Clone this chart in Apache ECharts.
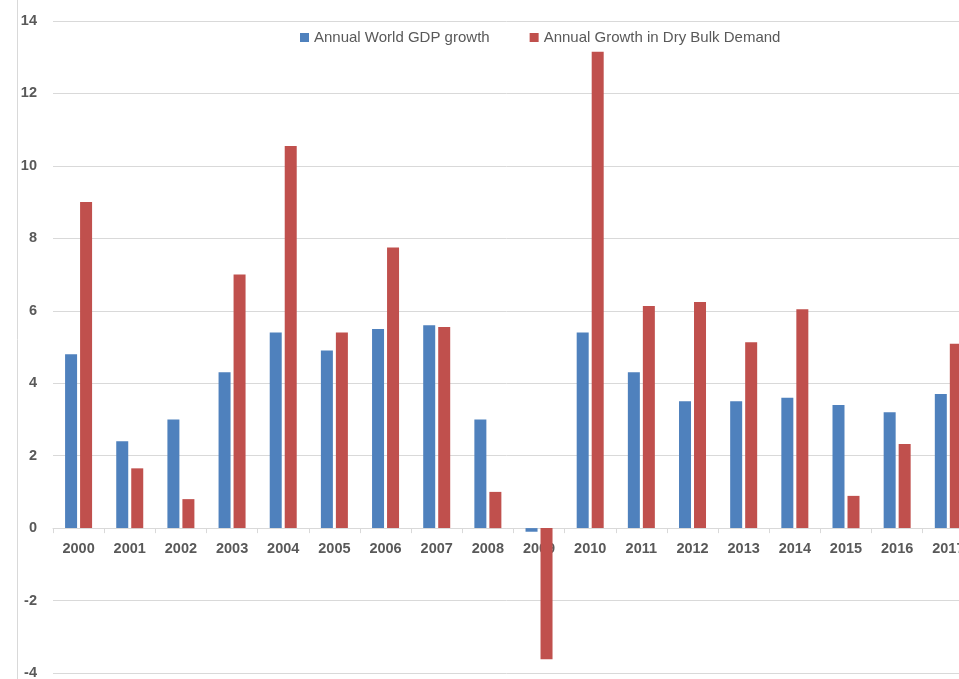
<!DOCTYPE html>
<html>
<head>
<meta charset="utf-8">
<style>html,body{margin:0;padding:0;background:#fff;}#chart{width:959px;height:679px;}</style>
<script src="https://cdn.jsdelivr.net/npm/echarts@6/dist/echarts.min.js"></script>
</head>
<body>
<div id="chart"></div>
<script>
var years = ['2000','2001','2002','2003','2004','2005','2006','2007','2008','2009','2010','2011','2012','2013','2014','2015','2016','2017'];
var gdpGrowth = [4.8, 2.4, 3.0, 4.3, 5.4, 4.9, 5.5, 5.6, 3.0, -0.1, 5.4, 4.3, 3.5, 3.5, 3.6, 3.4, 3.2, 3.7];
var dryBulkGrowth = [9.0, 1.65, 0.8, 7.0, 10.55, 5.4, 7.75, 5.55, 1.0, -3.62, 13.15, 6.13, 6.24, 5.13, 6.04, 0.89, 2.32, 5.09];
var yTicks = {min: -4, max: 14, interval: 2};
var seriesNames = ['Annual World GDP growth', 'Annual Growth in Dry Bulk Demand'];

var gridHeight = 652;
// shift the category axis up to the zero line of the value scale
var zeroOffset = -gridHeight * (0 - yTicks.min) / (yTicks.max - yTicks.min);

var chart = echarts.init(document.getElementById('chart'), null, {renderer: 'canvas'});
var font = 'Liberation Sans';
chart.setOption({
  animation: false,
  backgroundColor: '#ffffff',
  color: ['#4F81BD', '#C0504D'],
  legend: {
    data: seriesNames,
    left: 300,
    top: 30,
    padding: 0,
    icon: 'rect',
    itemWidth: 9,
    itemHeight: 9,
    itemGap: 40,
    textStyle: {color: '#595959', fontSize: 15, fontFamily: font}
  },
  grid: {left: 53, top: 21, width: 920.9, height: gridHeight, outerBoundsMode: 'none', containLabel: false},
  xAxis: {
    type: 'category',
    data: years,
    position: 'bottom',
    offset: zeroOffset,
    axisLine: {onZero: false, lineStyle: {color: '#d9d9d9', width: 1}},
    axisTick: {show: true, length: 5, lineStyle: {color: '#d9d9d9'}},
    axisLabel: {color: '#595959', fontSize: 14.5, fontWeight: 'bold', fontFamily: font, margin: 13, interval: 0}
  },
  yAxis: {
    type: 'value',
    min: yTicks.min,
    max: yTicks.max,
    interval: yTicks.interval,
    axisLine: {show: false},
    axisTick: {show: false},
    splitLine: {lineStyle: {color: '#d9d9d9', width: 1}},
    axisLabel: {color: '#595959', fontSize: 14.5, fontWeight: 'bold', fontFamily: font, margin: 16}
  },
  graphic: [{
    type: 'line',
    shape: {x1: 17.5, y1: 0, x2: 17.5, y2: 679},
    style: {stroke: '#d9d9d9', lineWidth: 1},
    silent: true
  }],
  series: [
    {name: seriesNames[0], type: 'bar', data: gdpGrowth, barWidth: 12, barGap: '25%', zlevel: 1},
    {name: seriesNames[1], type: 'bar', data: dryBulkGrowth, barWidth: 12, barGap: '25%', zlevel: 1}
  ]
});
</script>
</body>
</html>
